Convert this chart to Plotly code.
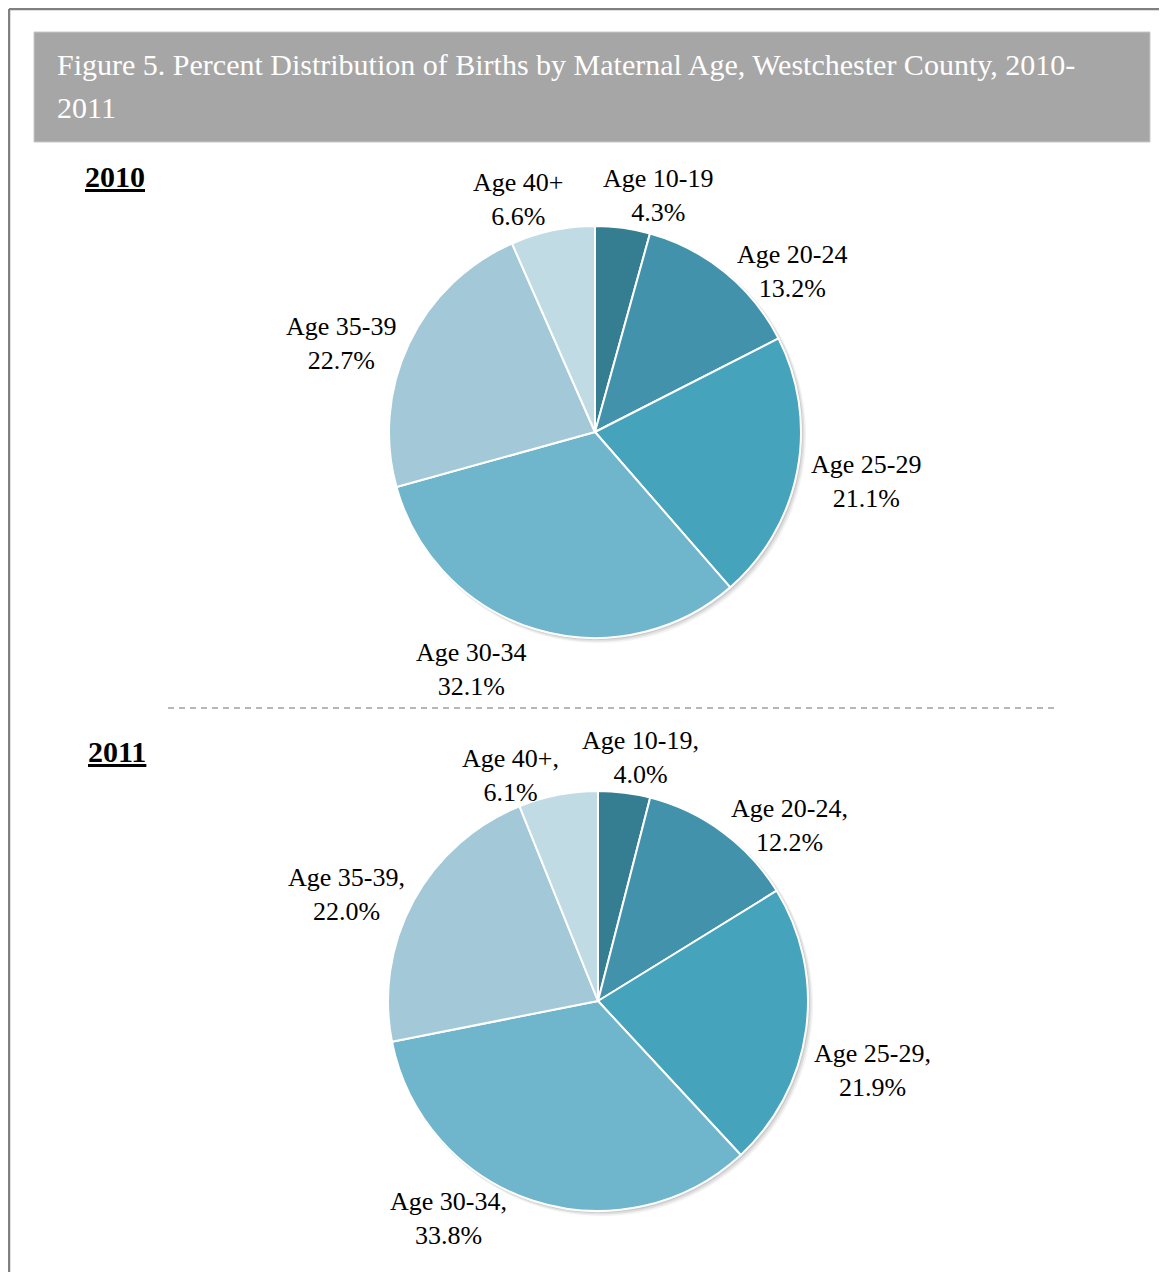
import plotly.graph_objects as go

# page body has an 8px margin; keep the figure inside the viewport
OFF = 8
W, H = 1167 - 2 * OFF, 1280 - 2 * OFF

categories = ["Age 10-19", "Age 20-24", "Age 25-29", "Age 30-34", "Age 35-39", "Age 40+"]
values_2010 = [4.3, 13.2, 21.1, 32.1, 22.7, 6.6]
values_2011 = [4.0, 12.2, 21.9, 33.8, 22.0, 6.1]
colors = ["#357d91", "#4192aa", "#46a3bc", "#6fb5cc", "#a3c9d8", "#c1dbe4"]

title_line1 = "Figure 5. Percent Distribution of Births by Maternal Age, Westchester County, 2010-"
title_line2 = "2011"

FONT = "Liberation Serif"


def px_x(x):
    return (x - OFF) / W


def px_y(y):
    return 1 - (y - OFF) / H


# pie centers / radii in pixels (layout only)
pies = [
    dict(year="2010", values=values_2010, cx=595, cy=432, r=206, sep=""),
    dict(year="2011", values=values_2011, cx=598, cy=1001, r=210, sep=","),
]

# label anchor positions (pixel centers) for each category, per pie
label_pos = [
    [(658, 195), (792, 271), (866, 481), (471, 669), (341, 344), (518, 199)],
    [(640, 757), (789, 825), (872, 1070), (448, 1218), (346, 894), (510, 775)],
]

fig = go.Figure()
shapes = []
annotations = []

# outer frame lines
shapes.append(dict(type="line", xref="paper", yref="paper", x0=px_x(9), x1=1.0,
                   y0=px_y(9), y1=px_y(9), line=dict(color="#808080", width=2.5)))
shapes.append(dict(type="line", xref="paper", yref="paper", x0=px_x(9), x1=px_x(9),
                   y0=px_y(9), y1=0, line=dict(color="#808080", width=2.5)))

# title bar
shapes.append(dict(type="rect", xref="paper", yref="paper", x0=px_x(34), x1=px_x(1150),
                   y0=px_y(142), y1=px_y(32), fillcolor="#a6a6a6",
                   line=dict(color="#c8c8c8", width=1), layer="below"))
annotations.append(dict(x=px_x(55), y=px_y(64), xref="paper", yref="paper", text=title_line1,
                        showarrow=False, xanchor="left", yanchor="middle",
                        font=dict(family=FONT, size=30, color="white")))
annotations.append(dict(x=px_x(55), y=px_y(108), xref="paper", yref="paper", text=title_line2,
                        showarrow=False, xanchor="left", yanchor="middle",
                        font=dict(family=FONT, size=30, color="white")))

# dashed separator
shapes.append(dict(type="line", xref="paper", yref="paper", x0=px_x(168), x1=px_x(1058),
                   y0=px_y(708), y1=px_y(708), line=dict(color="#a0a0a0", width=1.5, dash="6px,5px")))

year_label_pos = [(115, 176), (117, 751)]

for i, p in enumerate(pies):
    cx, cy, r = p["cx"], p["cy"], p["r"]
    # soft shadow
    for k, a in [(5, 0.05), (3.5, 0.07), (2, 0.09)]:
        shapes.append(dict(type="circle", xref="paper", yref="paper",
                           x0=px_x(cx - r + k * 0.4), x1=px_x(cx + r + k),
                           y0=px_y(cy + r + k), y1=px_y(cy - r + k * 0.4),
                           fillcolor=f"rgba(0,0,0,{a})", line=dict(width=0), layer="below"))
    fig.add_trace(go.Pie(
        labels=categories, values=p["values"], sort=False, direction="clockwise",
        rotation=0, textinfo="none", hoverinfo="label+percent",
        marker=dict(colors=colors, line=dict(color="white", width=2)),
        domain=dict(x=[px_x(cx - r), px_x(cx + r)], y=[px_y(cy + r), px_y(cy - r)]),
        showlegend=False,
    ))
    for cat, v, (lx, ly) in zip(categories, p["values"], label_pos[i]):
        annotations.append(dict(x=px_x(lx), y=px_y(ly), xref="paper", yref="paper",
                                text=f"{cat}{p['sep']}<br>{v:.1f}%", showarrow=False,
                                xanchor="center", yanchor="middle", align="center",
                                font=dict(family=FONT, size=26, color="black")))
    yx, yy = year_label_pos[i]
    annotations.append(dict(x=px_x(yx), y=px_y(yy), xref="paper", yref="paper",
                            text=f"<b><u>{p['year']}</u></b>", showarrow=False,
                            xanchor="center", yanchor="middle",
                            font=dict(family=FONT, size=30, color="black")))

fig.update_layout(
    width=W, height=H, margin=dict(l=0, r=0, t=0, b=0),
    paper_bgcolor="white", plot_bgcolor="white",
    shapes=shapes, annotations=annotations,
)

fig.write_html("out.html")
